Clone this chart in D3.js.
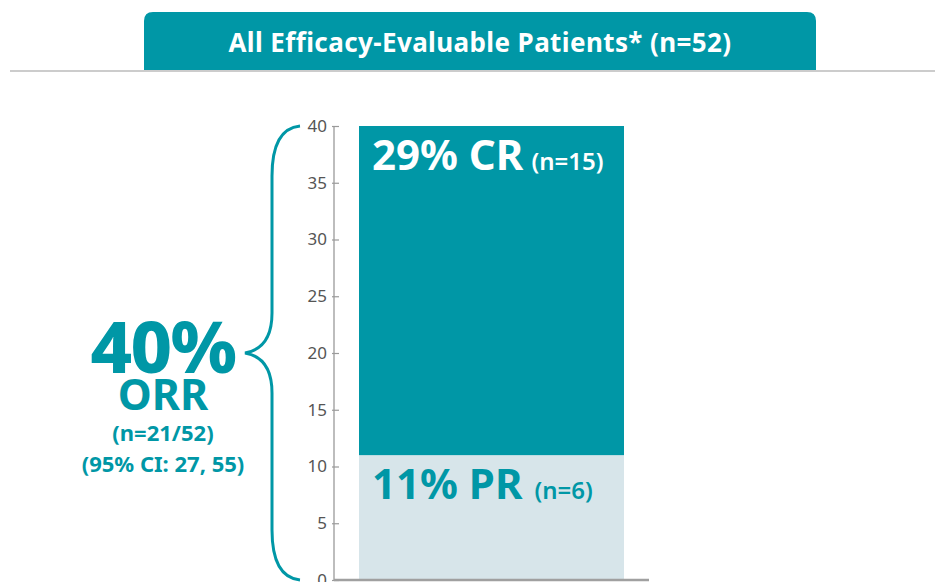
<!DOCTYPE html>
<html><head><meta charset="utf-8">
<script src="https://cdn.jsdelivr.net/npm/d3@7"></script>
<style>body{margin:0;background:#fff;} svg{display:block;font-family:"Noto Sans",sans-serif;}</style>
</head><body>
<svg id="c" width="935" height="582"></svg>
<script>
const title = "All Efficacy-Evaluable Patients* (n=52)";
const categories = ["All Efficacy-Evaluable Patients"];
const series = ["PR", "CR"];
const prValues = [11];
const crValues = [29];
const seriesLabels = ["11% PR", "29% CR"];
const seriesN = ["(n=6)", "(n=15)"];
const yTicks = [0, 5, 10, 15, 20, 25, 30, 35, 40];
const orrText = ["40%", "ORR", "(n=21/52)", "(95% CI: 27, 55)"];

const teal = "#0097a6", light = "#d7e5ea";
const svg = d3.select("#c");

// header
const hx0 = 144, hx1 = 816, hy0 = 12, hy1 = 70, r = 9;
svg.append("path").attr("fill", teal)
  .attr("d", `M${hx0},${hy1}V${hy0+r}Q${hx0},${hy0} ${hx0+r},${hy0}H${hx1-r}Q${hx1},${hy0} ${hx1},${hy0+r}V${hy1}Z`);
svg.append("text").attr("x", (hx0+hx1)/2).attr("y", 52).attr("text-anchor", "middle")
  .attr("fill", "#fff").attr("font-weight", 700).attr("font-size", 26).attr("letter-spacing", 0.4).text(title);
svg.append("line").attr("x1", 10).attr("x2", 935).attr("y1", 71).attr("y2", 71)
  .attr("stroke", "#9a9a9a").attr("stroke-width", 1.2);

const y = d3.scaleLinear().domain([0, 40]).range([580, 126]);
const x = d3.scaleBand().domain(categories).range([334, 649]).paddingInner(0).paddingOuter(0.08);
const bw = 265;

const stackData = categories.map((c, i) => ({cat: c, PR: prValues[i], CR: crValues[i]}));
const stack = d3.stack().keys(series)(stackData);
const colors = {PR: light, CR: teal};
stack.forEach(s => {
  svg.append("g").selectAll("rect").data(s).join("rect")
    .attr("x", d => x(d.data.cat) + (x.bandwidth() - bw) / 2)
    .attr("width", bw)
    .attr("y", d => y(d[1]))
    .attr("height", d => y(d[0]) - y(d[1]))
    .attr("fill", colors[s.key]);
});

// axes
const ax = svg.append("g").attr("transform", "translate(334,0)")
  .call(d3.axisLeft(y).tickValues(yTicks).tickSize(-5).tickPadding(7));
ax.select(".domain").attr("stroke", "#9a9a9a").attr("stroke-width", 1.3).attr("d", "M0,126V580");
ax.selectAll(".tick line").attr("stroke", "#9a9a9a").attr("stroke-width", 1.2).attr("x1", -2);
ax.selectAll(".tick text").attr("fill", "#555").attr("font-size", 17).attr("font-family", "Noto Sans, sans-serif");
svg.append("line").attr("x1", 334).attr("x2", 649).attr("y1", 580).attr("y2", 580)
  .attr("stroke", "#a0a0a0").attr("stroke-width", 2.5);

// bar labels
const bx = x(categories[0]) + (x.bandwidth() - bw) / 2 + 13;
const crT = svg.append("text").attr("x", bx).attr("y", y(40) + 44).attr("fill", "#fff").attr("font-weight", 700);
crT.append("tspan").attr("font-size", 42).text(seriesLabels[1]);
crT.append("tspan").attr("font-size", 24).attr("dx", 8).attr("font-weight", 600).text(seriesN[1]);
const prT = svg.append("text").attr("x", bx).attr("y", y(11) + 44).attr("fill", teal).attr("font-weight", 700);
prT.append("tspan").attr("font-size", 42).text(seriesLabels[0]);
prT.append("tspan").attr("font-size", 24).attr("dx", 12).attr("font-weight", 600).text(seriesN[0]);

// brace
const yt = y(40), yb = y(0), ym = 353;
svg.append("path").attr("fill", "none").attr("stroke", teal).attr("stroke-width", 3)
  .attr("d", `M300,${yt}C280,${yt+2} 272,${yt+20} 272,${yt+50}V${ym-40}C272,${ym-15} 262,${ym-3} 245,${ym}C262,${ym+3} 272,${ym+15} 272,${ym+40}V${yb-50}C272,${yb-20} 280,${yb-2} 300,${yb}`);

// ORR text
const cx = 163;
svg.append("text").attr("x", cx).attr("y", 373).attr("text-anchor", "middle").attr("fill", teal)
  .attr("font-weight", 800).attr("font-size", 72).attr("letter-spacing", -1.5).text(orrText[0]);
svg.append("text").attr("x", cx).attr("y", 410).attr("text-anchor", "middle").attr("fill", teal)
  .attr("font-weight", 700).attr("font-size", 43).text(orrText[1]);
svg.append("text").attr("x", cx).attr("y", 441).attr("text-anchor", "middle").attr("fill", teal)
  .attr("font-weight", 700).attr("font-size", 22).text(orrText[2]);
svg.append("text").attr("x", cx).attr("y", 472).attr("text-anchor", "middle").attr("fill", teal)
  .attr("font-weight", 700).attr("font-size", 22).text(orrText[3]);
</script>
</body></html>
